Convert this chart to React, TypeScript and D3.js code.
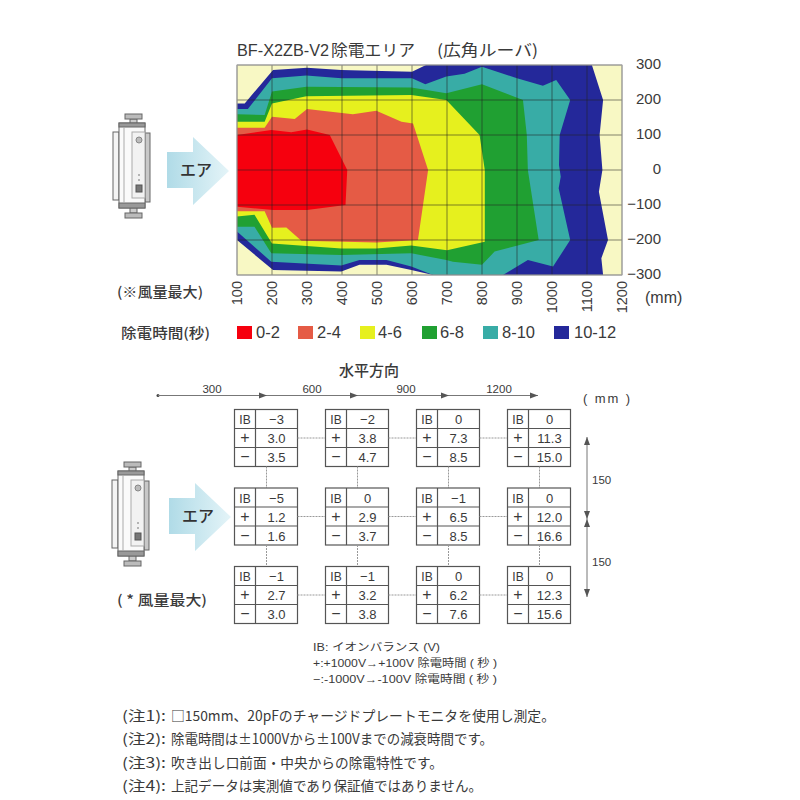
import React from "react";
import * as d3 from "d3";

const bandLabels = ["0-2", "2-4", "4-6", "6-8", "8-10", "10-12"];
const bandColors = ["#f6000e", "#e55b45", "#e6f01e", "#20a032", "#38aca6", "#24289a"];
const plotBg = "#f8f8c4";
const xTicks = [100, 200, 300, 400, 500, 600, 700, 800, 900, 1000, 1100, 1200];
const yTicks = [300, 200, 100, 0, -100, -200, -300];

const band12: [number, number][] = [[100,190],[122,190],[203,286],[300,292],[398,286],[600,281],[640,300],[1114,300],[1146,200],[1136,100],[1144,0],[1134,-62],[1160,-200],[1141,-252],[1146,-300],[660,-300],[598,-286],[527,-271],[450,-271],[398,-290],[300,-288],[203,-286],[100,-200]];
const band10: [number, number][] = [[100,174],[131,174],[200,262],[298,270],[398,262],[600,262],[638,245],[698,267],[750,275],[800,295],[900,262],[974,241],[1012,257],[1052,200],[1022,100],[1020,14],[1025,-19],[1019,-52],[1052,-200],[1003,-276],[931,-257],[860,-300],[660,-300],[598,-276],[527,-257],[450,-257],[398,-273],[198,-262],[100,-176]];
const band8: [number, number][] = [[100,159],[179,157],[200,224],[298,238],[598,236],[698,219],[800,245],[917,200],[928,100],[931,0],[962,-200],[836,-233],[800,-271],[717,-262],[698,-257],[598,-238],[398,-243],[198,-238],[150,-162],[100,-162]];
const band6: [number, number][] = [[100,138],[179,138],[200,190],[298,211],[598,214],[698,200],[793,100],[808,0],[808,-205],[700,-229],[598,-216],[498,-224],[398,-224],[200,-210],[150,-128],[100,-133]];
const band4: [number, number][] = [[100,121],[179,121],[200,152],[265,146],[300,174],[431,159],[498,169],[570,138],[603,133],[646,0],[617,-200],[498,-207],[284,-202],[241,-164],[200,-165],[179,-118],[100,-118]];
const band2: [number, number][] = [[100,100],[198,114],[255,108],[300,116],[365,100],[415,0],[410,-100],[300,-114],[203,-114],[100,-105]];
const bands = [band12, band10, band8, band6, band4, band2];
const bandFill = [bandColors[5], bandColors[4], bandColors[3], bandColors[2], bandColors[1], bandColors[0]];

const ibValues = [["-3", "-2", "0", "0"], ["-5", "0", "-1", "0"], ["-1", "-1", "0", "0"]];
const plusValues = [["3.0", "3.8", "7.3", "11.3"], ["1.2", "2.9", "6.5", "12.0"], ["2.7", "3.2", "6.2", "12.3"]];
const minusValues = [["3.5", "4.7", "8.5", "15.0"], ["1.6", "3.7", "8.5", "16.6"], ["3.0", "3.8", "7.6", "15.6"]];
const horizontalLabels = ["300", "600", "900", "1200"];
const notePrefixes = ["(注1):", "(注2):", "(注3):", "(注4):"];
const noteBodies = [
  "□150mm、20pFのチャージドプレートモニタを使用し測定。",
  "除電時間は±1000Vから±100Vまでの減衰時間です。",
  "吹き出し口前面・中央からの除電特性です。",
  "上記データは実測値であり保証値ではありません。",
];
const keyLines = ["IB: イオンバランス (V)", "+:+1000V→+100V 除電時間 ( 秒 )", "−:-1000V→-100V 除電時間 ( 秒 )"];

const sans = "'Liberation Sans', 'Noto Sans CJK JP', sans-serif";
const cjk = "'Noto Sans CJK JP', sans-serif";
const ink = "#3a3a3a";

const noteWidths = [384, 322, 272, 311];
const keyWidths = [127, 184, 184];
const legendSwatchX = [237, 298, 360, 422, 483, 554];
const legendTextX = [256, 317, 378, 440, 502, 574];
const axisTips = [158, 267, 358, 449, 538];
const axisLabelX = [212, 312, 406, 499];

function Device({ x, y }: { x: number; y: number }) {
  const s = "#666";
  return (
    <g transform={`translate(${x},${y})`} fill="#fff" stroke={s} strokeWidth={1}>
      <rect x={0} y={18} width={6} height={68} fill="#f4f4f4" />
      <rect x={32} y={19} width={5} height={69} fill="#c8c8c8" />
      <rect x={17} y={5} width={7} height={5} fill="#ccc" />
      <rect x={12} y={0} width={17} height={5} fill="#bbb" />
      <rect x={17} y={93} width={7} height={6} fill="#ccc" />
      <rect x={12} y={99} width={17} height={5} fill="#bbb" />
      <rect x={6} y={9} width={26} height={85} fill="#fafafa" />
      <rect x={6} y={9} width={26} height={4} fill="#999" />
      <rect x={6} y={89} width={26} height={5} fill="#999" />
      <line x1={11} x2={11} y1={13} y2={89} stroke="#aaa" />
      <rect x={19} y={18} width={13} height={66} fill="#f2f2f2" stroke="#aaa" />
      <circle cx={26} cy={26} r={3} fill="#bbb" stroke="#888" />
      <rect x={23} y={71} width={6} height={7} fill="#777" stroke="#555" />
      <line x1={26} x2={26} y1={60} y2={68} stroke="#777" strokeDasharray="2 3" />
    </g>
  );
}

function AirArrow({ x, y, id }: { x: number; y: number; id: string }) {
  return (
    <g transform={`translate(${x},${y})`}>
      <defs>
        <linearGradient id={id} x1="0" x2="1" y1="0" y2="0">
          <stop offset="0" stopColor="#b0dbe7" />
          <stop offset="1" stopColor="#e4f4f8" />
        </linearGradient>
      </defs>
      <path d="M0,15 H26 V0 L62,34 L26,68 V51 H0 Z" fill={`url(#${id})`} />
      <text x={29} y={39} textAnchor="middle" fontFamily={cjk} fontSize={16} fontWeight={500} fill="#333">エア</text>
    </g>
  );
}

export default function App() {
  const x = d3.scaleLinear().domain([100, 1200]).range([237, 622]);
  const y = d3.scaleLinear().domain([-300, 300]).range([275, 65]);
  const line = d3.line<[number, number]>().x(d => x(d[0])).y(d => y(d[1]));

  const boxX = d3.scalePoint<number>().domain([0, 1, 2, 3]).range([234.5, 507.5]);
  const boxY = d3.scalePoint<number>().domain([0, 1, 2]).range([409.5, 566.5]);
  const bw = 63, rh = 19, dv = 21;
  const axisY = 395.5;

  return (
    <svg width={800} height={800} style={{ position: "absolute", left: 0, top: 0 }} fontFamily={sans}>
      <rect width={800} height={800} fill="#fff" />
      <text x={237} y={56} fontSize={16} fill={ink} textLength={92} lengthAdjust="spacingAndGlyphs">BF-X2ZB-V2</text>
      <text x={331} y={56} fontSize={16} fill={ink} fontFamily={cjk} textLength={84} lengthAdjust="spacingAndGlyphs">除電エリア</text>
      <text x={437} y={56} fontSize={16} fill={ink} fontFamily={cjk} textLength={101} lengthAdjust="spacingAndGlyphs">(広角ルーバ)</text>

      <rect x={237} y={65} width={385} height={210} fill={plotBg} />
      {bands.map((b, i) => <path key={i} d={line(b) + "Z"} fill={bandFill[i]} />)}
      {xTicks.map(t => <line key={t} x1={x(t)} x2={x(t)} y1={65} y2={275} stroke="#222" strokeOpacity={0.55} strokeWidth={1} />)}
      {yTicks.map(t => <line key={t} x1={237} x2={622} y1={y(t)} y2={y(t)} stroke="#222" strokeOpacity={0.55} strokeWidth={1} />)}
      <rect x={237} y={65} width={385} height={210} fill="none" stroke="#aaa" />
      {yTicks.map(t => (
        <text key={t} x={661} y={y(t) + 4} textAnchor="end" fontSize={15} fill={ink}>{t < 0 ? "−" + Math.abs(t) : t}</text>
      ))}
      {xTicks.map(t => (
        <text key={t} transform={`translate(${x(t) + 5},281) rotate(-90)`} textAnchor="end" fontSize={14.5} fill={ink}>{t}</text>
      ))}
      <text x={645} y={303} fontSize={16} fill={ink}>(mm)</text>
      <Device x={113} y={114} />
      <AirArrow x={167} y={137} id="air1" />
      <text x={117} y={297} fontSize={14} fontFamily={cjk} fontWeight={500} fill={ink} textLength={86} lengthAdjust="spacingAndGlyphs">(※風量最大)</text>

      <text x={121} y={338} fontSize={14} fontFamily={cjk} fontWeight={500} fill={ink} textLength={89} lengthAdjust="spacingAndGlyphs">除電時間(秒)</text>
      {bandLabels.map((l, i) => (
        <g key={l}>
          <rect x={legendSwatchX[i]} y={326} width={15} height={13} fill={bandColors[i]} />
          <text x={legendTextX[i]} y={338} fontSize={16.5} fill={ink}>{l}</text>
        </g>
      ))}

      <text x={339} y={376} fontSize={15} fontFamily={cjk} fontWeight={500} fill={ink}>水平方向</text>
      <circle cx={158} cy={axisY} r={1.5} fill="#444" />
      <line x1={158} x2={axisTips[4]} y1={axisY} y2={axisY} stroke="#777" strokeWidth={1} />
      {axisTips.slice(1).map(a => <path key={a} d={`M${a - 8},${axisY - 3} L${a},${axisY} L${a - 8},${axisY + 3} Z`} fill="#555" />)}
      {horizontalLabels.map((l, i) => (
        <text key={l} x={axisLabelX[i]} y={393} textAnchor="middle" fontSize={11.5} fill={ink}>{l}</text>
      ))}
      <text x={583} y={403} fontSize={13} fill={ink} textLength={47}>( mm )</text>

      {[0, 1, 2].map(r => [0, 1, 2, 3].map(c => {
        const bx = boxX(c)!, by = boxY(r)!;
        const cols = [ibValues[r][c], plusValues[r][c], minusValues[r][c]];
        return (
          <g key={`${r}-${c}`}>
            <rect x={bx} y={by} width={bw} height={rh * 3} fill="#fff" stroke="#555" strokeWidth={1.2} />
            <line x1={bx + dv} x2={bx + dv} y1={by} y2={by + rh * 3} stroke="#555" strokeWidth={1.2} />
            <line x1={bx} x2={bx + bw} y1={by + rh} y2={by + rh} stroke="#555" strokeWidth={1.2} />
            <line x1={bx} x2={bx + bw} y1={by + rh * 2} y2={by + rh * 2} stroke="#555" strokeWidth={1.2} />
            {["IB", "+", "−"].map((h, i) => (
              <text key={h} x={bx + dv / 2} y={by + rh * i + 14.5} textAnchor="middle" fontSize={i ? 16 : 12} fill={ink}>{h}</text>
            ))}
            {cols.map((v, i) => (
              <text key={i} x={bx + dv + (bw - dv) / 2} y={by + rh * i + 14.5} textAnchor="middle" fontSize={13} fill={ink}>{i === 0 && v.startsWith("-") ? "−" + v.slice(1) : v}</text>
            ))}
            {c < 3 && <line x1={bx + bw} x2={boxX(c + 1)!} y1={by + rh * 1.5} y2={by + rh * 1.5} stroke="#999" strokeDasharray="2 1" />}
            {r < 2 && <line x1={bx + 32} x2={bx + 32} y1={by + rh * 3} y2={boxY(r + 1)!} stroke="#999" strokeDasharray="2 1" />}
          </g>
        );
      }))}

      <line x1={587} x2={587} y1={437} y2={597} stroke="#777" />
      {[[437, 1], [519, -1], [519, 1], [597, -1]].map(([py, d], i) => (
        <path key={i} d={`M584,${py + 8 * d} L587,${py} L590,${py + 8 * d} Z`} fill="#555" />
      ))}
      <text x={592} y={484} fontSize={11.5} fill={ink}>150</text>
      <text x={592} y={566} fontSize={11.5} fill={ink}>150</text>

      <Device x={112} y={462} />
      <AirArrow x={169} y={483} id="air2" />
      <text x={117} y={605} fontSize={14} fontFamily={cjk} fontWeight={500} fill={ink} textLength={90} lengthAdjust="spacingAndGlyphs">( * 風量最大)</text>

      {keyLines.map((l, i) => (
        <text key={i} x={313} y={651 + i * 16} fontSize={11} fill={ink} textLength={keyWidths[i]} lengthAdjust="spacingAndGlyphs">{l}</text>
      ))}
      {notePrefixes.map((p, i) => (
        <g key={p}>
          <text x={122} y={721 + i * 23.3} fontSize={14} fill={ink} fontFamily={cjk} textLength={44} lengthAdjust="spacingAndGlyphs">{p}</text>
          <text x={171} y={721 + i * 23.3} fontSize={14} fill={ink} fontFamily={cjk} textLength={noteWidths[i]} lengthAdjust="spacingAndGlyphs">{noteBodies[i]}</text>
        </g>
      ))}
    </svg>
  );
}
